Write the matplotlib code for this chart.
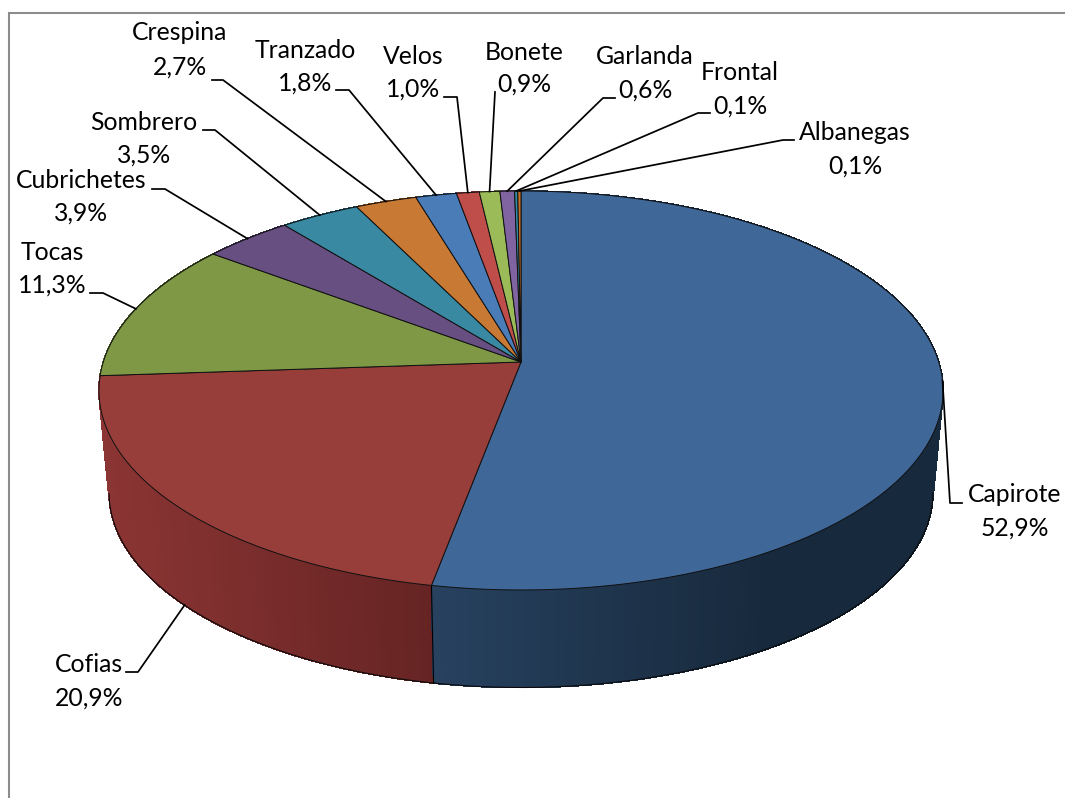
"""Excel style 3D pie: tocados, share of each type. Everything drawn in pixel coordinates."""
import numpy as np
import matplotlib
matplotlib.use("Agg")
import matplotlib.pyplot as plt
from matplotlib.collections import PolyCollection
from matplotlib.colors import to_rgb

labels = ["Capirote", "Cofias", "Tocas", "Cubrichetes", "Sombrero", "Crespina",
          "Tranzado", "Velos", "Bonete", "Garlanda", "Frontal", "Albanegas"]
# printed labels are rounded and add up to 99.7, these are estimates that round to them
shares = [52.94, 20.94, 11.34, 3.94, 3.50, 2.70, 1.80, 1.00, 0.90, 0.64, 0.14, 0.14]
top_colors = ["#3f6797", "#973e3b", "#7e9845", "#684f82", "#3a89a3", "#c87934",
              "#4a7cb8", "#bf4d4a", "#9bbb59", "#8064a2", "#2f8aa3", "#c8702a"]
side_light = ["#27415f", "#8b3534", "#5d7033", "#4b3960", "#2a6478", "#925726",
              "#365b87", "#8c3836", "#718841", "#5d4976", "#226577", "#925220"]
side_dark = ["#17293c", "#652423", "#4a5a29", "#3c2e4d", "#215060", "#75461e",
             "#2b496c", "#702d2b", "#5b6d34", "#4a3a5e", "#1b515f", "#75421a"]
shade_gain = [1.5, 1.0, 1.0, 1.0, 1.0, 1.0, 1.0, 1.0, 1.0, 1.0, 1.0, 1.0]

# centre x, first line y, second line y
label_pos = [(1015, 494, 528), (89, 664, 698), (52, 253, 285), (81, 181, 213),
             (144, 123, 155), (180, 33, 67), (305, 50, 83), (413, 57, 89),
             (524, 52, 84), (645, 57, 90), (740, 72, 106), (855, 133, 166)]
# the elbow of each leader: start next to the text, then the bend
leader_elbow = [[(962, 503), (950, 503)], [(126, 672), (138, 672)], [(90, 293), (103, 293)],
                [(152, 189), (165, 189)], [(203, 130), (215, 130)], [(212, 80), (223, 80)],
                [(336, 90), (349, 90)], [(444, 97), (457, 97)], [(495, 92)],
                [(615, 98), (603, 98)], [(710, 113), (698, 113)], [(794, 140), (783, 140)]]

CX = 521
TOP_APEX = 362
BOTTOM_APEX = 465
BOTTOM_SCALE = 0.976
K = 1 / 7
EX, EY = 417.7, 195.4


def rim(angle, apex=TOP_APEX, scale=1.0):
    """Perspective circle: angle is clockwise from the top, the far side gets squeezed."""
    sx, cy = np.sin(angle), np.cos(angle)
    w = 1 + K * cy
    return CX + scale * EX * sx / w, apex - scale * EY * cy / w


fig = plt.figure(figsize=(10.65, 7.98), dpi=100)
ax = fig.add_axes([0, 0, 1, 1])
ax.set_xlim(0, 1065)
ax.set_ylim(798, 0)
ax.axis("off")

ax.plot([8.5, 8.5, 1065], [798, 12.5, 12.5], color="#8c8c8c", lw=1.5, solid_joinstyle="miter")

edges = np.r_[0, np.cumsum(shares)] / np.sum(shares) * 2 * np.pi

# side wall first, back slices before front ones, the top faces then cover the rest
for i in reversed(range(len(shares))):
    t = np.linspace(edges[i], edges[i + 1], max(int(shares[i] * 12), 3))
    xt, yt = rim(t)
    xb, yb = rim(t, BOTTOM_APEX, BOTTOM_SCALE)
    x_lo = xt.min()
    span = max(xt.max() - x_lo, 1)
    quads, cols = [], []
    light, dark = np.array(to_rgb(side_light[i])), np.array(to_rgb(side_dark[i]))
    for j in range(len(t) - 1):
        quads.append([(xt[j], yt[j]), (xt[j + 1], yt[j + 1]), (xb[j + 1], yb[j + 1]), (xb[j], yb[j])])
        f = min(((xt[j] + xt[j + 1]) / 2 - x_lo) / span * shade_gain[i], 1.0)
        cols.append(light + (dark - light) * f)
    ax.add_collection(PolyCollection(quads, facecolors=cols, edgecolors=cols, linewidths=0.6,
                                     antialiaseds=False, zorder=2))
    front = np.cos(t) < -K
    if front.any():
        ax.plot(xb[front], yb[front], color="#0a0a0a", lw=0.8, zorder=3)

# seam between the two visible wall pieces
x0, y0 = rim(edges[1])
x1, y1 = rim(edges[1], BOTTOM_APEX, BOTTOM_SCALE)
ax.plot([x0, x1], [y0, y1], color="black", lw=0.8, zorder=3)

for i in range(len(shares)):
    t = np.linspace(edges[i], edges[i + 1], max(int(shares[i] * 12), 3))
    xt, yt = rim(t)
    ax.fill(np.r_[CX, xt], np.r_[TOP_APEX, yt], facecolor=top_colors[i], edgecolor="#101010",
            lw=0.7, joinstyle="round", zorder=4)

# data labels with leaders
for i, name in enumerate(labels):
    mid = (edges[i] + edges[i + 1]) / 2
    if name == "Cofias":
        end = rim(mid, BOTTOM_APEX, BOTTOM_SCALE)
    else:
        end = rim(mid)
    pts = leader_elbow[i] + [end]
    ax.plot([p[0] for p in pts], [p[1] for p in pts], color="black", lw=1.25, zorder=5)
    cx, y1, y2 = label_pos[i]
    pct = f"{shares[i]:.1f}%".replace(".", ",")
    ax.text(cx, y1, name, ha="center", va="center", fontsize=17.8, family="Lato", color="black", zorder=6)
    ax.text(cx, y2, pct, ha="center", va="center", fontsize=17.8, family="Lato", color="black", zorder=6)

fig.savefig("out.png", dpi=100)
